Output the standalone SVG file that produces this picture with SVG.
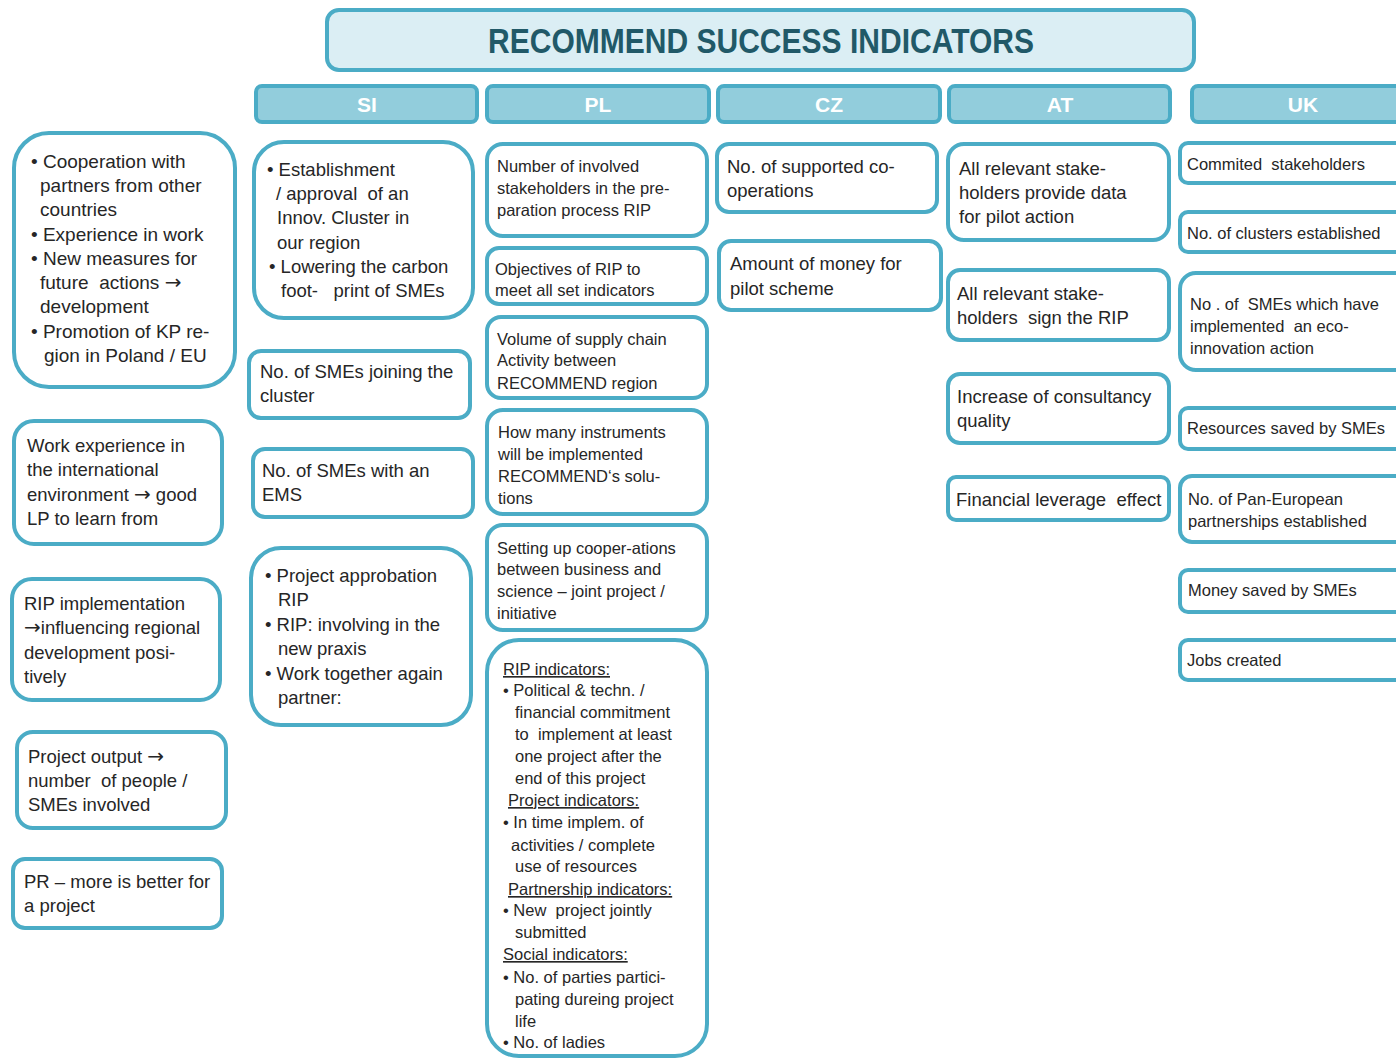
<svg xmlns="http://www.w3.org/2000/svg" width="1396" height="1059" viewBox="0 0 1396 1059">
<style>
.box{fill:#ffffff;stroke:#4bacc6;stroke-width:4}
.hdr{fill:#92cddc;stroke:#4bacc6;stroke-width:4}
.title{fill:#dbeef4;stroke:#4bacc6;stroke-width:4}
.t{font-family:"Liberation Sans",Arial,sans-serif;font-size:18.5px;fill:#262626;white-space:pre}
.t19{font-size:19px}
.s{font-family:"Liberation Sans",Arial,sans-serif;font-size:16.5px;fill:#262626;white-space:pre}
.u{text-decoration:underline}
.a{font-family:"DejaVu Sans",sans-serif;font-size:20px}
.h{font-family:"Liberation Sans",Arial,sans-serif;font-size:21px;font-weight:bold;fill:#ffffff;text-anchor:middle}
</style>
<rect width="1396" height="1059" fill="#ffffff"/>
<g id="title"><rect class="title" x="327" y="10" width="867" height="60" rx="12"/><text x="761" y="53" text-anchor="middle" font-family="Liberation Sans,Arial,sans-serif" font-size="35" font-weight="bold" fill="#215968" textLength="546" lengthAdjust="spacingAndGlyphs">RECOMMEND SUCCESS INDICATORS</text></g>
<g id="headers"><g id="h-si"><rect class="hdr" x="256" y="86" width="221" height="36" rx="6"/><text class="h" x="367" y="112">SI</text></g><g id="h-pl"><rect class="hdr" x="487" y="86" width="222" height="36" rx="6"/><text class="h" x="598" y="112">PL</text></g><g id="h-cz"><rect class="hdr" x="718" y="86" width="222" height="36" rx="6"/><text class="h" x="829" y="112">CZ</text></g><g id="h-at"><rect class="hdr" x="949" y="86" width="221" height="36" rx="6"/><text class="h" x="1060" y="112">AT</text></g><g id="h-uk"><rect class="hdr" x="1192" y="86" width="230" height="36" rx="6"/><text class="h" x="1303" y="112">UK</text></g></g>
<g id="connectors"></g>
<g id="l1"><rect class="box" x="14" y="133" width="221" height="254" rx="35"/><text class="t t19"><tspan x="31" y="168">• Cooperation with</tspan><tspan x="40" y="192">partners from other</tspan><tspan x="40" y="216">countries</tspan><tspan x="31" y="241">• Experience in work</tspan><tspan x="31" y="265">• New measures for</tspan><tspan x="40" y="289">future  actions <tspan class="a">→</tspan></tspan><tspan x="40" y="313">development</tspan><tspan x="31" y="338">• Promotion of KP re-</tspan><tspan x="44" y="362">gion in Poland / EU</tspan></text></g>
<g id="l2"><rect class="box" x="14" y="421" width="208" height="123" rx="20"/><text class="t"><tspan x="27" y="452">Work experience in</tspan><tspan x="27" y="476">the international</tspan><tspan x="27" y="501">environment <tspan class="a">→</tspan> good</tspan><tspan x="27" y="525">LP to learn from</tspan></text></g>
<g id="l3"><rect class="box" x="12" y="579" width="208" height="121" rx="20"/><text class="t"><tspan x="24" y="610">RIP implementation</tspan><tspan x="24" y="634"><tspan class="a">→</tspan>influencing regional</tspan><tspan x="24" y="659">development posi-</tspan><tspan x="24" y="683">tively</tspan></text></g>
<g id="l4"><rect class="box" x="17" y="732" width="209" height="96" rx="16"/><text class="t"><tspan x="28" y="763">Project output <tspan class="a">→</tspan></tspan><tspan x="28" y="787">number  of people /</tspan><tspan x="28" y="811">SMEs involved</tspan></text></g>
<g id="l5"><rect class="box" x="13" y="859" width="209" height="69" rx="12"/><text class="t"><tspan x="24" y="888">PR – more is better for</tspan><tspan x="24" y="912">a project</tspan></text></g>
<g id="si1"><rect class="box" x="254" y="142" width="219" height="176" rx="30"/><text class="t"><tspan x="267" y="176">• Establishment</tspan><tspan x="276" y="200">/ approval  of an</tspan><tspan x="277" y="224">Innov. Cluster in</tspan><tspan x="277" y="249">our region</tspan><tspan x="269" y="273">• Lowering the carbon</tspan><tspan x="281" y="297">foot-   print of SMEs</tspan></text></g>
<g id="si2"><rect class="box" x="249" y="351" width="221" height="67" rx="12"/><text class="t"><tspan x="260" y="378">No. of SMEs joining the</tspan><tspan x="260" y="402">cluster</tspan></text></g>
<g id="si3"><rect class="box" x="253" y="449" width="220" height="68" rx="12"/><text class="t"><tspan x="262" y="477">No. of SMEs with an</tspan><tspan x="262" y="501">EMS</tspan></text></g>
<g id="si4"><rect class="box" x="251" y="548" width="220" height="177" rx="30"/><text class="t"><tspan x="265" y="582">• Project approbation</tspan><tspan x="278" y="606">RIP</tspan><tspan x="265" y="631">• RIP: involving in the</tspan><tspan x="278" y="655">new praxis</tspan><tspan x="265" y="680">• Work together again</tspan><tspan x="278" y="704">partner:</tspan></text></g>
<g id="pl1"><rect class="box" x="487" y="144" width="220" height="92" rx="16"/><text class="s"><tspan x="497" y="172">Number of involved</tspan><tspan x="497" y="194">stakeholders in the pre-</tspan><tspan x="497" y="216">paration process RIP</tspan></text></g>
<g id="pl2"><rect class="box" x="487" y="248" width="220" height="56" rx="12"/><text class="s"><tspan x="495" y="275">Objectives of RIP to</tspan><tspan x="495" y="296">meet all set indicators</tspan></text></g>
<g id="pl3"><rect class="box" x="487" y="317" width="220" height="81" rx="14"/><text class="s"><tspan x="497" y="345">Volume of supply chain</tspan><tspan x="497" y="366">Activity between</tspan><tspan x="497" y="389">RECOMMEND region</tspan></text></g>
<g id="pl4"><rect class="box" x="487" y="410" width="220" height="104" rx="16"/><text class="s"><tspan x="498" y="438">How many instruments</tspan><tspan x="498" y="460">will be implemented</tspan><tspan x="498" y="482">RECOMMEND‘s solu-</tspan><tspan x="498" y="504">tions</tspan></text></g>
<g id="pl5"><rect class="box" x="487" y="525" width="220" height="105" rx="16"/><text class="s"><tspan x="497" y="554">Setting up cooper-ations</tspan><tspan x="497" y="575">between business and</tspan><tspan x="497" y="597">science – joint project /</tspan><tspan x="497" y="619">initiative</tspan></text></g>
<g id="pl6"><rect class="box" x="487" y="640" width="220" height="416" rx="32"/><text class="s"><tspan x="503" y="675" class="u">RIP indicators:</tspan><tspan x="503" y="696">• Political &amp; techn. /</tspan><tspan x="515" y="718">financial commitment</tspan><tspan x="515" y="740">to  implement at least</tspan><tspan x="515" y="762">one project after the</tspan><tspan x="515" y="784">end of this project</tspan><tspan x="508" y="806" class="u">Project indicators:</tspan><tspan x="503" y="828">• In time implem. of</tspan><tspan x="511" y="851">activities / complete</tspan><tspan x="515" y="872">use of resources</tspan><tspan x="508" y="895" class="u">Partnership indicators:</tspan><tspan x="503" y="916">• New  project jointly</tspan><tspan x="515" y="938">submitted</tspan><tspan x="503" y="960" class="u">Social indicators:</tspan><tspan x="503" y="983">• No. of parties partici-</tspan><tspan x="515" y="1005">pating dureing project</tspan><tspan x="515" y="1027">life</tspan><tspan x="503" y="1048">• No. of ladies</tspan></text></g>
<g id="cz1"><rect class="box" x="717" y="144" width="220" height="68" rx="12"/><text class="t"><tspan x="727" y="173">No. of supported co-</tspan><tspan x="727" y="197">operations</tspan></text></g>
<g id="cz2"><rect class="box" x="719" y="241" width="222" height="69" rx="12"/><text class="t"><tspan x="730" y="270">Amount of money for</tspan><tspan x="730" y="295">pilot scheme</tspan></text></g>
<g id="at1"><rect class="box" x="948" y="144" width="221" height="96" rx="16"/><text class="t"><tspan x="959" y="175">All relevant stake-</tspan><tspan x="959" y="199">holders provide data</tspan><tspan x="959" y="223">for pilot action</tspan></text></g>
<g id="at2"><rect class="box" x="948" y="270" width="221" height="70" rx="12"/><text class="t"><tspan x="957" y="300">All relevant stake-</tspan><tspan x="957" y="324">holders  sign the RIP</tspan></text></g>
<g id="at3"><rect class="box" x="948" y="374" width="221" height="69" rx="12"/><text class="t"><tspan x="957" y="403">Increase of consultancy</tspan><tspan x="957" y="427">quality</tspan></text></g>
<g id="at4"><rect class="box" x="948" y="477" width="221" height="43" rx="8"/><text class="t"><tspan x="956" y="506">Financial leverage  effect</tspan></text></g>
<g id="uk1"><rect class="box" x="1180" y="143" width="240" height="40" rx="8"/><text class="s" x="1187" y="170">Commited  stakeholders</text></g>
<g id="uk2"><rect class="box" x="1180" y="212" width="240" height="40" rx="8"/><text class="s" x="1187" y="239">No. of clusters established</text></g>
<g id="uk3"><rect class="box" x="1180" y="273" width="240" height="97" rx="16"/><text class="s"><tspan x="1190" y="310">No . of  SMEs which have</tspan><tspan x="1190" y="332">implemented  an eco-</tspan><tspan x="1190" y="354">innovation action</tspan></text></g>
<g id="uk4"><rect class="box" x="1180" y="408" width="240" height="41" rx="8"/><text class="s" x="1187" y="434">Resources saved by SMEs</text></g>
<g id="uk5"><rect class="box" x="1180" y="476" width="240" height="66" rx="12"/><text class="s"><tspan x="1188" y="505">No. of Pan-European</tspan><tspan x="1188" y="527">partnerships established</tspan></text></g>
<g id="uk6"><rect class="box" x="1180" y="570" width="240" height="42" rx="8"/><text class="s" x="1188" y="596">Money saved by SMEs</text></g>
<g id="uk7"><rect class="box" x="1180" y="640" width="240" height="40" rx="8"/><text class="s" x="1187" y="666">Jobs created</text></g>
</svg>
